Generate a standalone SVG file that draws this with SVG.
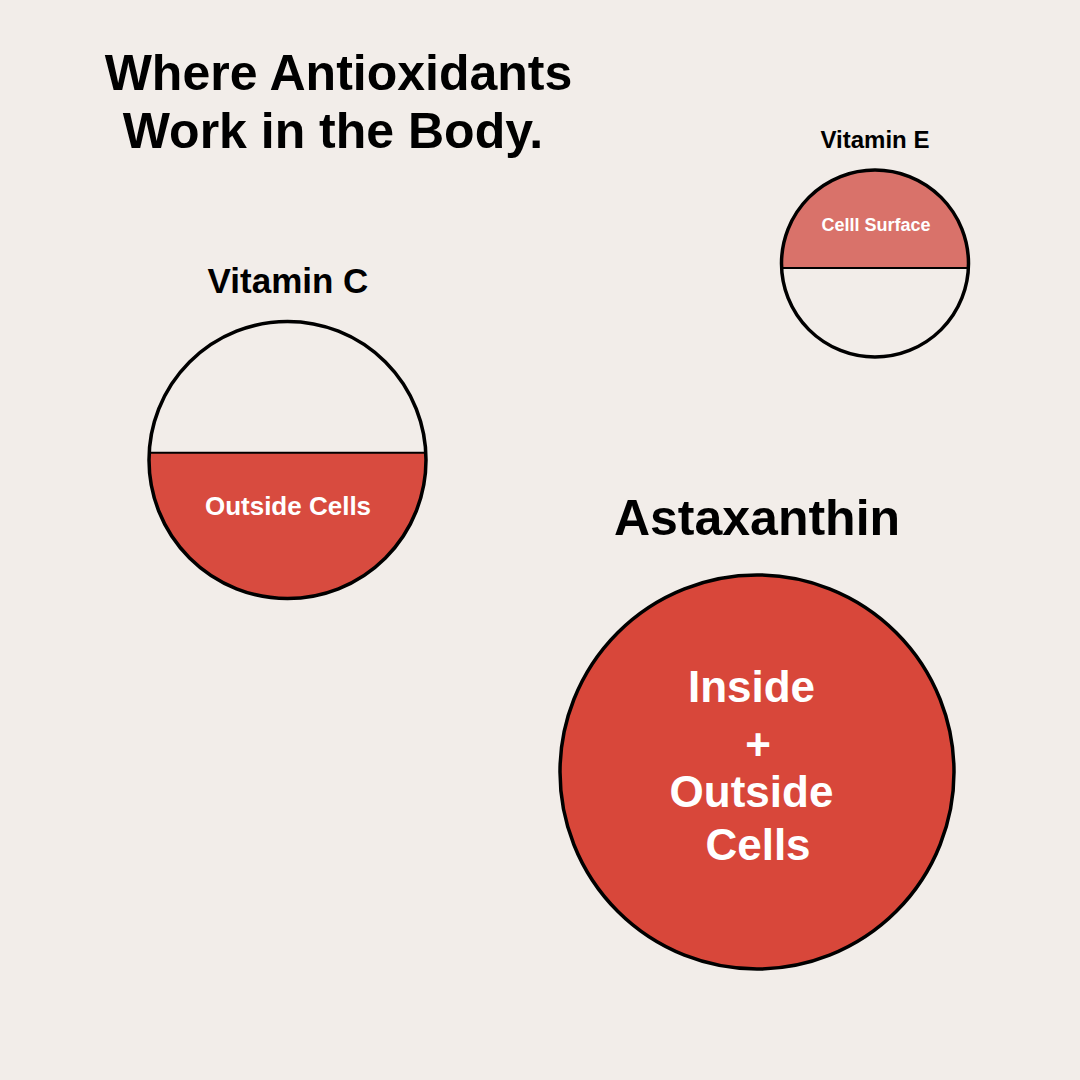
<svg xmlns="http://www.w3.org/2000/svg" width="1080" height="1080" viewBox="0 0 1080 1080">
  <style>
    text { font-family: "Liberation Sans", Arial, Helvetica, sans-serif; font-weight: bold; text-anchor: middle; }
    .dark { fill: #000000; }
    .light { fill: #FFFFFF; }
    .ring { fill: none; stroke: #000000; stroke-width: 3.5; }
    .divider { stroke: #000000; stroke-width: 2; }
  </style>
  <defs>
    <clipPath id="clipC"><circle cx="287.5" cy="460" r="138.5"/></clipPath>
    <clipPath id="clipE"><circle cx="875" cy="263.5" r="93.5"/></clipPath>
  </defs>
  <rect x="0" y="0" width="1080" height="1080" fill="#F2EDE9"/>

  <g id="title">
    <text class="dark" x="338.5" y="90" font-size="50">Where Antioxidants</text>
    <text class="dark" x="333" y="148" font-size="50">Work in the Body.</text>
  </g>

  <g id="vitamin-c">
    <text class="dark" x="288" y="293" font-size="35">Vitamin C</text>
    <circle cx="287.5" cy="460" r="138.5" fill="#F2EDE9"/>
    <rect x="140" y="452.7" width="300" height="160" fill="#D84B3F" clip-path="url(#clipC)"/>
    <line class="divider" x1="149" y1="452.7" x2="426" y2="452.7"/>
    <circle class="ring" cx="287.5" cy="460" r="138.5"/>
    <text class="light" x="288" y="515" font-size="26">Outside Cells</text>
  </g>

  <g id="vitamin-e">
    <text class="dark" x="875" y="148" font-size="24">Vitamin E</text>
    <circle cx="875" cy="263.5" r="93.5" fill="#F2EDE9"/>
    <rect x="770" y="160" width="210" height="108" fill="#D9726A" clip-path="url(#clipE)"/>
    <line class="divider" x1="782" y1="268" x2="968" y2="268"/>
    <circle class="ring" cx="875" cy="263.5" r="93.5"/>
    <text class="light" x="876" y="231" font-size="18">Celll Surface</text>
  </g>

  <g id="astaxanthin">
    <text class="dark" x="757" y="535" font-size="50">Astaxanthin</text>
    <circle cx="757" cy="772" r="197" fill="#D8473A" stroke="#000000" stroke-width="3.5"/>
    <text class="light" x="751.5" y="702" font-size="44">Inside</text>
    <text class="light" x="758" y="760" font-size="44">+</text>
    <text class="light" x="751.5" y="807" font-size="44">Outside</text>
    <text class="light" x="758" y="860" font-size="44">Cells</text>
  </g>

  <g id="connectors"></g>
</svg>
